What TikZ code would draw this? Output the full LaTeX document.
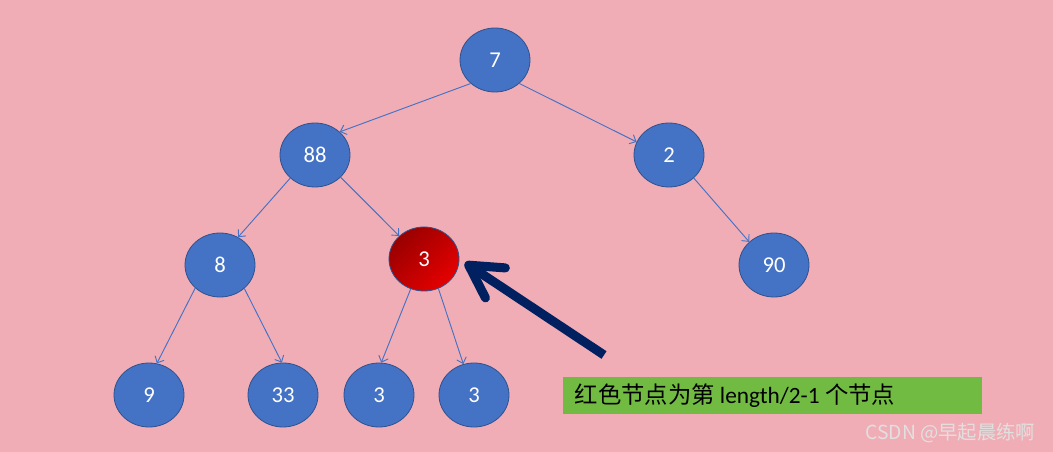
\documentclass[tikz,border=0pt]{standalone}
\usepackage{fontspec}
\setmainfont{Carlito}
\newfontfamily\cjk{Noto Sans CJK SC}
\usetikzlibrary{arrows.meta,shapes.geometric}
\definecolor{bgpink}{HTML}{F0ADB6}
\definecolor{nodeblue}{HTML}{4472C4}
\definecolor{nodeline}{HTML}{2F528F}
\definecolor{navy}{HTML}{002060}
\definecolor{notegreen}{HTML}{72BB43}

\begin{document}
\begin{tikzpicture}[x=0.75pt,y=-0.75pt,
  vtx/.style={ellipse,draw=nodeline,fill=nodeblue,line width=0.6pt,minimum width=52.5pt,minimum height=48pt,inner sep=0pt,text=white,font=\fontsize{17}{17}\selectfont},
  hot/.style={vtx,fill=none,top color=red!60!black,bottom color=red!90!black,shading angle=45},
  link/.style={nodeblue,line width=0.7pt,-{Straight Barb[length=4pt,width=7.5pt]}},
  bigarrow/.style={navy,line width=6.8pt,-{Straight Barb[length=24pt,width=27pt,round]}},
  note/.style={fill=notegreen,minimum width=314pt,minimum height=28pt,inner sep=0pt},
  wmark/.style={text=black!12,font=\cjk\fontsize{14.5}{15}\selectfont}]
\useasboundingbox[fill=bgpink] (0,0) rectangle (1053,452);
% the heap as a tree
\node[vtx] (n7) at (495,60) {7};
\node[vtx] (n88) at (315,155) {88};
\node[vtx] (n2) at (669,155) {2};
\node[vtx] (n8) at (220,265) {8};
\node[hot] (n3) at (424,259) {3};
\node[vtx] (n90) at (774,265) {90};
\node[vtx] (n9) at (149,395) {9};
\node[vtx] (n33) at (283,395) {33};
\node[vtx] (n3a) at (379,395) {3};
\node[vtx] (n3b) at (474,395) {3};
\foreach \a/\s/\b/\e in {7/224/88/43,7/316/2/158,88/223/8/57,88/319/3/137,2/317/90/137,
  8/223/9/76,8/316/33/92,3/246/3a/86,3/296/3b/109}
  \draw[link] (n\a.\s)--(n\b.\e);
% pointer and note
\coordinate (src) at (604,355);
\draw[bigarrow,shorten >=5pt] (src)--(n3.east);
\node[note] (msg) at (772.5,395.5) {};
\node[anchor=west,font=\fontsize{17.5}{18}\selectfont] (msgtext) at (570,396) {{\cjk 红色节点为第} length/2-1 {\cjk 个节点}};
\node[wmark,anchor=east] (wm) at (1040,433) {CSDN @早起晨练啊};
\end{tikzpicture}
\end{document}
